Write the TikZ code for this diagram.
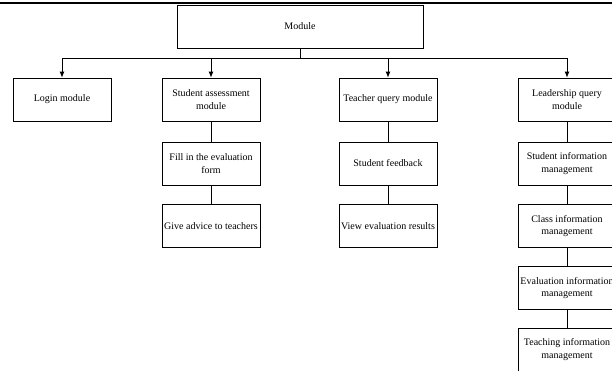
\documentclass[tikz,border=0pt]{standalone}
\usepackage{fontspec}
\setmainfont{Liberation Serif}
\usetikzlibrary{arrows.meta}
\begin{document}
\begin{tikzpicture}[x=1pt,y=-1pt,
  box/.style={draw, line width=0.8pt, minimum width=98pt, minimum height=43pt,
    inner sep=0pt, align=center, font=\fontsize{10}{12.5}\selectfont},
  link/.style={line width=0.8pt},
  arr/.style={line width=0.8pt, -{Latex[length=6pt,width=5pt]}}]
\useasboundingbox (0,0) rectangle (612,370);
\clip (0,0) rectangle (612,370);
% top rule
\fill (0,1.7) rectangle (612,4.2);

% root
\node[box, minimum width=246pt] (mod) at (300,26.5) {Module};
\coordinate (bus) at (300,58);

% first level
\node[box] (login) at (62,99.5) {Login module};
\node[box] (sam) at (211,99.5) {Student assessment\\module};
\node[box] (tqm) at (388,99.5) {Teacher query module};
\node[box] (lqm) at (567,99.5) {Leadership query\\module};

% student assessment branch
\node[box] (fill) at (211,163.5) {Fill in the evaluation\\form};
\node[box] (advice) at (211,226) {Give advice to teachers};

% teacher query branch
\node[box] (feedback) at (388,163.5) {Student feedback};
\node[box] (view) at (388,226) {View evaluation results};

% leadership query branch
\node[box] (sinfo) at (567,163.5) {Student information\\management};
\node[box] (cinfo) at (567,226) {Class information\\management};
\node[box] (einfo) at (567,288) {Evaluation information\\management};
\node[box] (tinfo) at (567,349.5) {Teaching information\\management};

% connectors from the root
\draw[link] (mod.south) -- (bus);
\draw[arr] (bus) -| (login.north);
\draw[arr] (bus) -| (sam.north);
\draw[arr] (bus) -| (tqm.north);
\draw[arr] (bus) -| (lqm.north);

% column connectors
\draw[link] (sam) -- (fill);
\draw[link] (fill) -- (advice);
\draw[link] (tqm) -- (feedback);
\draw[link] (feedback) -- (view);
\draw[link] (lqm) -- (sinfo);
\draw[link] (sinfo) -- (cinfo);
\draw[link] (cinfo) -- (einfo);
\draw[link] (einfo) -- (tinfo);
\end{tikzpicture}
\end{document}
